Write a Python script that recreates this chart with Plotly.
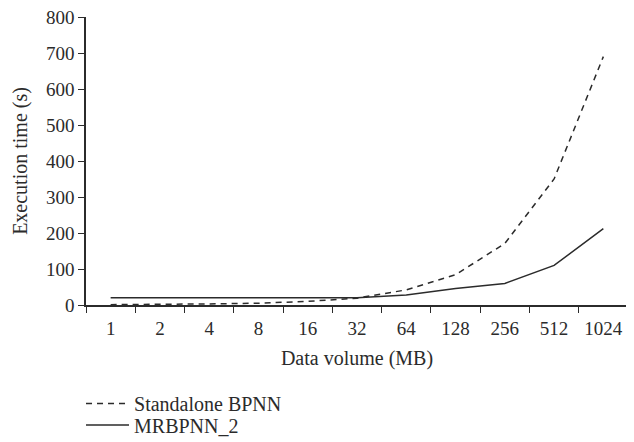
import plotly.graph_objects as go

categories = ["1", "2", "4", "8", "16", "32", "64", "128", "256", "512", "1024"]
standalone_bpnn = [1, 1.5, 3, 5, 10, 19, 42, 84, 171, 350, 690]
mrbpnn_2 = [20, 20, 19, 19, 20, 20, 28, 46, 60, 110, 212]
y_ticks = [0, 100, 200, 300, 400, 500, 600, 700, 800]

FONT = "Liberation Serif"
TXT = "#2b2b2b"
LINE = "#2b2b2b"

fig = go.Figure()
fig.add_trace(go.Scatter(x=categories, y=standalone_bpnn, mode="lines",
                         name="Standalone BPNN", legend="legend",
                         line=dict(color=LINE, width=1.5, dash="6px,5px")))
fig.add_trace(go.Scatter(x=categories, y=mrbpnn_2, mode="lines",
                         name="MRBPNN_2", legend="legend2",
                         line=dict(color=LINE, width=1.5)))

legend_common = dict(x=-0.0092, xanchor="left", yanchor="middle",
                     font=dict(family=FONT, size=20, color=TXT),
                     bgcolor="rgba(0,0,0,0)", itemwidth=43)

fig.update_layout(
    width=626, height=442,
    margin=dict(l=78, r=6, t=9, b=143),
    paper_bgcolor="white", plot_bgcolor="white",
    font=dict(family=FONT, size=20, color=TXT),
    showlegend=True,
    legend=dict(y=-0.342, **legend_common),
    legend2=dict(y=-0.417, **legend_common),
    xaxis=dict(type="category", range=[-0.5, 10.5], showgrid=False,
               showline=True, linecolor=LINE, linewidth=1.5,
               ticks="outside", ticklen=6, tickcolor=LINE, tickwidth=1.2,
               tickson="boundaries", automargin=False, ticklabelstandoff=5,
               tickangle=0,
               title=dict(text="Data volume (MB)", standoff=13,
                          font=dict(family=FONT, size=20, color=TXT)),
               tickfont=dict(family=FONT, size=19, color=TXT)),
    yaxis=dict(range=[0, 800], tickvals=y_ticks, showgrid=False,
               showline=True, linecolor=LINE, linewidth=1.5,
               ticks="outside", ticklen=6, tickcolor=LINE, tickwidth=1.2,
               zeroline=False, automargin=False, ticklabeloverflow="allow",
               title=dict(text="Execution time (s)", standoff=13,
                          font=dict(family=FONT, size=20, color=TXT)),
               tickfont=dict(family=FONT, size=19, color=TXT)),
)

fig.write_html("out.html")
